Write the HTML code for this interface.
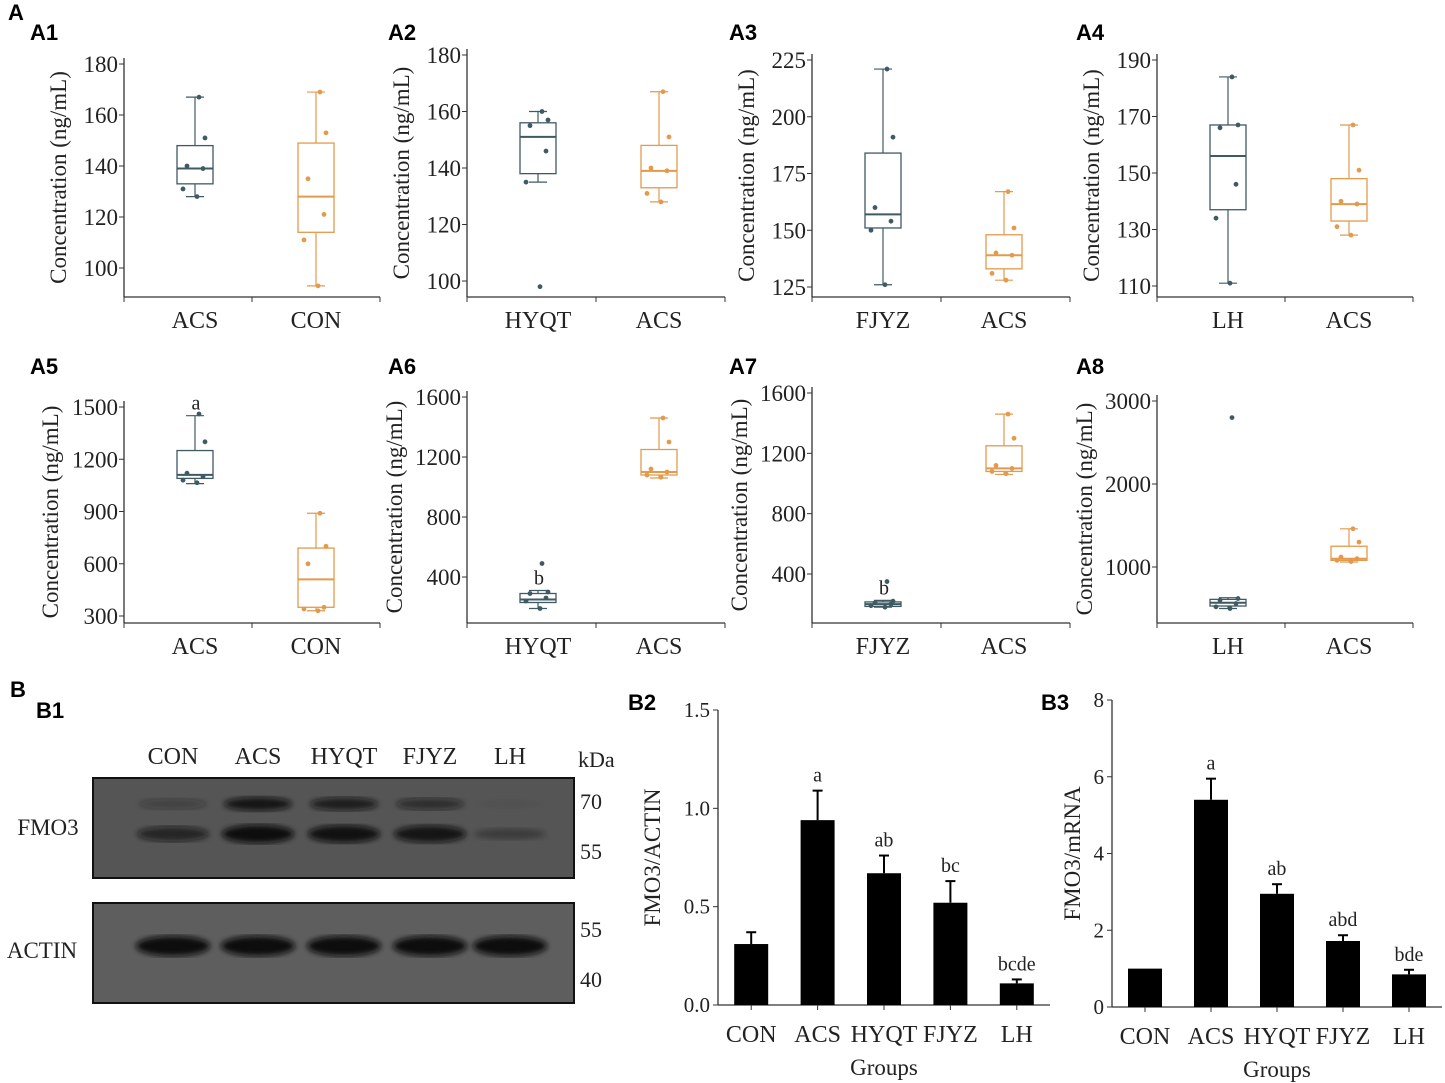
<!DOCTYPE html>
<html><head><meta charset="utf-8"><style>
body{margin:0;background:#fff;}
svg{display:block;font-family:"Liberation Serif",serif;}
.pl{font-family:"Liberation Sans",sans-serif;font-weight:bold;font-size:22px;}
</style></head><body>
<svg id="fig" width="1445" height="1083" viewBox="0 0 1445 1083" xmlns="http://www.w3.org/2000/svg"></svg>
<script>
// ---- Box plot data: [min whisker, q1, median, q3, max whisker]
const boxNames = ["A1","A2","A3","A4","A5","A6","A7","A8"];
const boxCats = [["ACS","CON"],["HYQT","ACS"],["FJYZ","ACS"],["LH","ACS"],["ACS","CON"],["HYQT","ACS"],["FJYZ","ACS"],["LH","ACS"]];
const boxStats = [
 [[128,133,139,148,167],[93,114,128,149,169]],
 [[135,138,151,156,160],[128,133,139,148,167]],
 [[126,151,157,184,221],[128,133,139,148,167]],
 [[111,137,156,167,184],[128,133,139,148,167]],
 [[1060,1090,1110,1250,1450],[330,350,510,690,890]],
 [[190,230,250,290,310],[1060,1080,1100,1250,1460]],
 [[180,185,200,215,225],[1060,1080,1100,1250,1460]],
 [[500,530,570,610,630],[1060,1080,1100,1250,1460]]
];
const boxPoints = [
 [[167,151,140,139,131,128],[169,153,135,121,111,93]],
 [[160,157,155,146,135,98],[167,151,140,139,131,128]],
 [[221,191,160,154,150,126],[167,151,140,139,131,128]],
 [[184,167,166,146,134,111],[167,151,140,139,131,128]],
 [[1460,1300,1120,1100,1080,1065],[890,700,600,350,340,330]],
 [[490,300,290,260,240,190],[1460,1300,1120,1100,1080,1065]],
 [[350,220,210,200,190,180],[1460,1300,1120,1100,1080,1065]],
 [[2800,620,600,560,520,500],[1460,1300,1120,1100,1080,1065]]
];
const boxTicks = [[100,120,140,160,180],[100,120,140,160,180],[125,150,175,200,225],[110,130,150,170,190],[300,600,900,1200,1500],[400,800,1200,1600],[400,800,1200,1600],[1000,2000,3000]];
const boxLetters = [["",""],["",""],["",""],["",""],["a",""],["b",""],["b",""],["",""]];
// ---- Bar data
const barCats = ["CON","ACS","HYQT","FJYZ","LH"];
const b2Values = [0.31,0.94,0.67,0.52,0.11];
const b2Errors = [0.06,0.15,0.09,0.11,0.02];
const b2Letters = ["","a","ab","bc","bcde"];
const b2Ticks = [0.0,0.5,1.0,1.5];
const b3Values = [1.0,5.4,2.95,1.72,0.85];
const b3Errors = [0,0.55,0.25,0.15,0.12];
const b3Letters = ["","a","ab","abd","bde"];
const b3Ticks = [0,2,4,6,8];

const NS="http://www.w3.org/2000/svg";
const svg=document.getElementById('fig');
function el(tag,attrs,parent,text){const e=document.createElementNS(NS,tag);for(const k in attrs)e.setAttribute(k,attrs[k]);if(text!==undefined)e.textContent=text;(parent||svg).appendChild(e);return e;}
function txt(x,y,s,size,anchor,parent,name,extra){const t=el('text',Object.assign({x:x,y:y,'font-size':size,'text-anchor':anchor||'middle',fill:'#222'},extra||{}),parent,s);

return t;}

const boxLayout=[
 {ax:124,y0:268,y1:64,base:297,right:380,lx:30,tx:-66},
 {ax:467,y0:281,y1:55,base:297,right:725,lx:388,tx:-66},
 {ax:812,y0:287,y1:60,base:297,right:1070,lx:729,tx:-66},
 {ax:1157,y0:286,y1:60,base:297,right:1413,lx:1076,tx:-66},
 {ax:124,y0:616,y1:407,base:623,right:380,lx:30,tx:-74},
 {ax:467,y0:577,y1:397,base:623,right:725,lx:388,tx:-73},
 {ax:812,y0:574,y1:393,base:623,right:1070,lx:729,tx:-73},
 {ax:1157,y0:567,y1:401,base:623,right:1413,lx:1076,tx:-73}
];
const colors=["#3f5a63","#e39a4c"];
el('text',{x:8,y:20,class:'pl'},svg,'A');
boxNames.forEach((nm,i)=>{
 const L=boxLayout[i];const ticks=boxTicks[i];
 const g=el('g',{});
 
 
 const tmin=ticks[0],tmax=ticks[ticks.length-1];
 const ys=v=>L.y0+(v-tmin)/(tmax-tmin)*(L.y1-L.y0);
 const topY=L.y1-6;
 const lab=el('text',{x:L.lx,y:(i<4?40:374),class:'pl'},g,nm);
 
 
 el('line',{x1:L.ax,y1:topY,x2:L.ax,y2:L.base,stroke:'#333','stroke-width':1.3},g);
 el('line',{x1:L.ax,y1:L.base,x2:L.right,y2:L.base,stroke:'#333','stroke-width':1.3},g);
 const mid=(L.ax+L.right)/2;
 [L.ax,mid,L.right].forEach(x=>el('line',{x1:x,y1:L.base,x2:x,y2:L.base+5,stroke:'#333'},g));
 ticks.forEach(t=>{const y=ys(t);el('line',{x1:L.ax-5,y1:y,x2:L.ax,y2:y,stroke:'#333'},g);
  txt(L.ax-6,y+8,String(t),23,'end',g,'y-tick-label');});
 const cy=(topY+L.base)/2;
 txt(L.ax+L.tx,cy,'Concentration (ng/mL)',23,'middle',g,'y-axis-title',{transform:`rotate(-90 ${L.ax+L.tx} ${cy})`,dy:8});
 [0,1].forEach(k=>{
  const cx=L.ax+(k===0?71:192);const c=colors[k];const s=boxStats[i][k];
  txt(cx,L.base+31,boxCats[i][k],24,'middle',g,'x-tick-label');
  el('line',{x1:cx,y1:ys(s[0]),x2:cx,y2:ys(s[4]),stroke:c,'stroke-width':1.2},g);
  [s[0],s[4]].forEach(v=>el('line',{x1:cx-9,y1:ys(v),x2:cx+9,y2:ys(v),stroke:c,'stroke-width':1.2},g));
  const r=el('rect',{x:cx-18,y:ys(s[3]),width:36,height:Math.max(1,ys(s[1])-ys(s[3])),fill:'#fff',stroke:c,'stroke-width':1.3},g);
  
  
  el('line',{x1:cx-18,y1:ys(s[2]),x2:cx+18,y2:ys(s[2]),stroke:c,'stroke-width':2},g);
  boxPoints[i][k].forEach((v,j)=>{const p=el('circle',{cx:cx+[4,10,-8,8,-12,2][j],cy:ys(v),r:2.4,fill:c},g);
   
   });
  if(boxLetters[i][k])txt(cx+1,ys(s[4])-6,boxLetters[i][k],20,'middle',g,'significance-letter');
 });
});

// ---- B1 western blot
el('text',{x:10,y:697,class:'pl'},svg,'B');
const b1=el('g',{});


el('text',{x:36,y:718,class:'pl'},b1,'B1');
const laneX=[173,258,344,430,510];
barCats.forEach((c,i)=>txt(laneX[i],764,c,24,'middle',b1,'lane-label'));
txt(578,767,'kDa',22,'start',b1,'kda-label');
const defs=el('defs',{});
const fl=el('filter',{id:'blur'},defs);el('feGaussianBlur',{stdDeviation:3},fl);
el('rect',{x:93,y:778,width:481,height:100,fill:'#555',stroke:'#111','stroke-width':2},b1);
el('rect',{x:93,y:903,width:481,height:100,fill:'#5e5e5e',stroke:'#111','stroke-width':2},b1);
const upper=[0.35,0.9,0.8,0.6,0.05], lower=[0.7,1,0.95,0.9,0.3];
laneX.forEach((x,i)=>{
 el('ellipse',{cx:x,cy:804,rx:34,ry:4+3*upper[i],fill:'#111','fill-opacity':upper[i],filter:'url(#blur)'},b1);
 el('ellipse',{cx:x,cy:834,rx:36,ry:4+5*lower[i],fill:'#0a0a0a','fill-opacity':lower[i],filter:'url(#blur)'},b1);
 el('ellipse',{cx:x,cy:946,rx:37,ry:10,fill:'#0a0a0a',filter:'url(#blur)'},b1);
});
[[802,"70"],[852,"55"],[930,"55"],[980,"40"]].forEach(a=>txt(580,+a[0]+7,a[1],22,'start',b1,'kda-marker'));
txt(48,835,'FMO3',23,'middle',b1,'fmo3-label');
txt(42,958,'ACTIN',23,'middle',b1,'actin-label');

// ---- bar charts
function barChart(name,label,lx,ax,y0,yTop,ticks,vals,errs,letters,ytitle,tx,right){
 const g=el('g',{});
 
 
 const tmax=ticks[ticks.length-1];
 const ys=v=>y0-v/tmax*(y0-yTop);
 el('text',{x:lx,y:710,class:'pl'},g,label);
 el('line',{x1:ax,y1:yTop,x2:ax,y2:y0,stroke:'#333','stroke-width':1.3},g);
 el('line',{x1:ax,y1:y0,x2:right,y2:y0,stroke:'#333','stroke-width':1.3},g);
 ticks.forEach(t=>{el('line',{x1:ax-5,y1:ys(t),x2:ax,y2:ys(t),stroke:'#333'},g);
  txt(ax-8,ys(t)+7,ticks.length===4?t.toFixed(1):String(t),21,'end',g,'y-tick-label');});
 const step=(right-ax)/5;
 vals.forEach((v,i)=>{
  const cx=ax+step*(i+0.5);
  el('line',{x1:cx,y1:y0,x2:cx,y2:y0+5,stroke:'#333'},g);
  const r=el('rect',{x:cx-17,y:ys(v),width:34,height:y0-ys(v),fill:'#000'},g);
  
  
  if(errs[i]>0){el('line',{x1:cx,y1:ys(v),x2:cx,y2:ys(v+errs[i]),stroke:'#000','stroke-width':2},g);
   el('line',{x1:cx-5,y1:ys(v+errs[i]),x2:cx+5,y2:ys(v+errs[i]),stroke:'#000','stroke-width':2},g);}
  if(letters[i])txt(cx,ys(v+errs[i])-9,letters[i],20,'middle',g,'significance-letter');
  txt(cx,y0+37,barCats[i],24,'middle',g,'x-tick-label');
 });
 txt((ax+right)/2,y0+70,'Groups',23,'middle',g,'x-axis-title');
 const my=(yTop+y0)/2;
 txt(ax+tx,my,ytitle,23,'middle',g,'y-axis-title',{transform:`rotate(-90 ${ax+tx} ${my})`,dy:8});
}
barChart('bar-chart-b2','B2',628,718,1005,710,b2Ticks,b2Values,b2Errors,b2Letters,'FMO3/ACTIN',-66,1050);
barChart('bar-chart-b3','B3',1041,1112,1007,700,b3Ticks,b3Values,b3Errors,b3Letters,'FMO3/mRNA',-40,1442);
</script>
</body></html>
